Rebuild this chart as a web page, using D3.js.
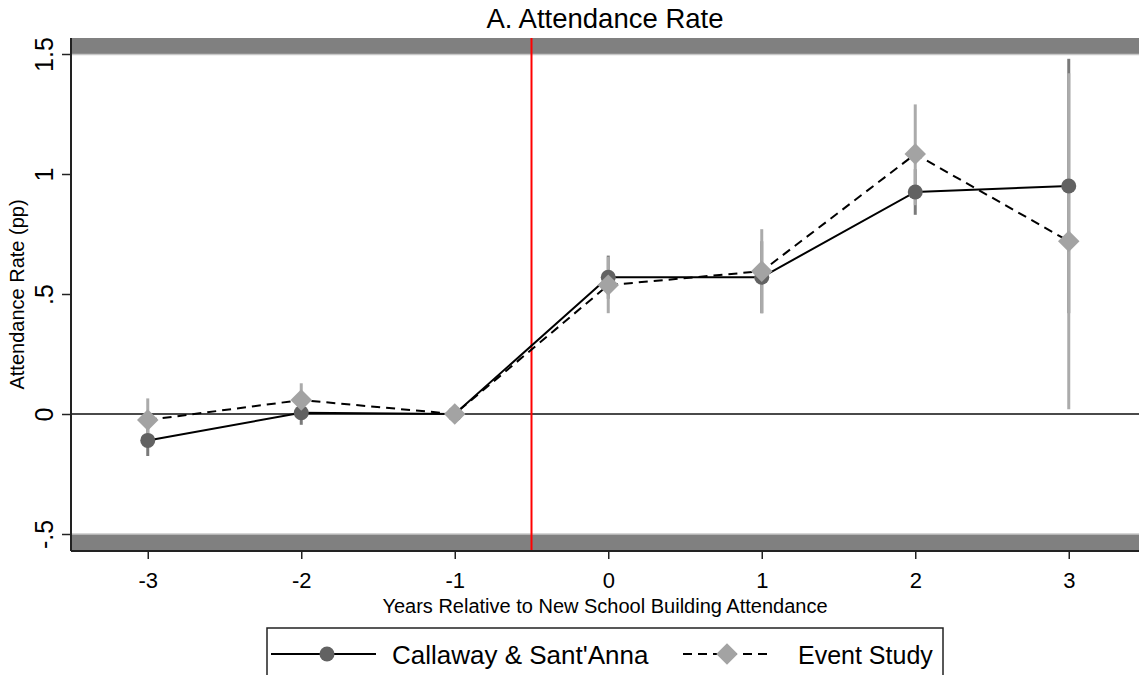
<!DOCTYPE html>
<html>
<head>
<meta charset="utf-8">
<script src="https://cdn.jsdelivr.net/npm/d3@7"></script>
<style>
  body { margin: 0; background: #fff; }
  svg { display: block; font-family: "Liberation Sans", Arial, sans-serif; }
</style>
</head>
<body>
<svg id="chart" width="1139" height="675"></svg>
<script>
// event time
const periods = [-3, -2, -1, 0, 1, 2, 3];
const xTicks = [-3, -2, -1, 0, 1, 2, 3];
const yTicks = [-0.5, 0, 0.5, 1, 1.5];
const yTickLabels = ["-.5", "0", ".5", "1", "1.5"];

// Callaway & Sant'Anna
const csEst = [-0.11, 0.005, 0, 0.57, 0.57, 0.925, 0.95];
const csLo = [-0.175, -0.045, 0, 0.48, 0.42, 0.83, 0.42];
const csHi = [-0.045, 0.055, 0, 0.66, 0.72, 1.02, 1.48];

// Event study
const esEst = [-0.025, 0.058, 0, 0.537, 0.595, 1.083, 0.72];
const esLo = [-0.115, -0.012, 0, 0.42, 0.42, 0.87, 0.02];
const esHi = [0.065, 0.128, 0, 0.655, 0.77, 1.29, 1.42];

const treatLine = -0.5;

let svg = d3.select("#chart");

let x = d3.scaleLinear().domain([-3.5, 3.5]).range([71, 1145.5]);
let y = d3.scaleLinear().domain([-0.5, 1.5]).range([534, 54]);

const plotTop = 38, plotBottom = 551, plotLeft = 71, plotRight = 1139;

// gray bands outside the y range
svg.append("rect")
    .attr("x", plotLeft).attr("y", plotTop)
    .attr("width", plotRight - plotLeft).attr("height", y(1.5) - plotTop)
    .attr("fill", "#808080");
svg.append("line")
    .attr("x1", plotLeft).attr("x2", plotRight)
    .attr("y1", y(1.5) + 0.5).attr("y2", y(1.5) + 0.5)
    .attr("stroke", "#c8c8c8").attr("stroke-width", 1.5);
svg.append("rect")
    .attr("x", plotLeft).attr("y", y(-0.5))
    .attr("width", plotRight - plotLeft).attr("height", plotBottom - y(-0.5))
    .attr("fill", "#808080");
svg.append("line")
    .attr("x1", plotLeft).attr("x2", plotRight)
    .attr("y1", y(-0.5)).attr("y2", y(-0.5))
    .attr("stroke", "#c8c8c8").attr("stroke-width", 1.5);

// zero line
svg.append("line")
    .attr("x1", plotLeft).attr("x2", plotRight)
    .attr("y1", y(0)).attr("y2", y(0))
    .attr("stroke", "#4a4a4a").attr("stroke-width", 2);

// treatment line
svg.append("line")
    .attr("x1", x(treatLine)).attr("x2", x(treatLine))
    .attr("y1", plotTop).attr("y2", plotBottom)
    .attr("stroke", "#ff0000").attr("stroke-width", 2);

// axes
let yAxis = d3.axisLeft(y).tickValues(yTicks)
    .tickFormat((d, i) => yTickLabels[i]).tickSize(9).tickSizeOuter(0);
let gy = svg.append("g").attr("transform", "translate(" + plotLeft + ",0)").call(yAxis);
gy.select(".domain").remove();
gy.selectAll(".tick line").attr("stroke", "#222").attr("stroke-width", 1.5);
gy.selectAll(".tick text")
    .attr("font-size", 25).attr("fill", "#000")
    .attr("text-anchor", "middle")
    .attr("transform", "translate(-27,0) rotate(-90)")
    .attr("x", 0).attr("dy", "0.35em");
svg.append("line")
    .attr("x1", plotLeft).attr("x2", plotLeft).attr("y1", plotTop).attr("y2", plotBottom)
    .attr("stroke", "#222").attr("stroke-width", 2);

let xAxis = d3.axisBottom(x).tickValues(xTicks).tickSize(8).tickSizeOuter(0);
let gx = svg.append("g").attr("transform", "translate(0," + plotBottom + ")").call(xAxis);
gx.select(".domain").remove();
gx.selectAll(".tick line").attr("stroke", "#222").attr("stroke-width", 1.5);
gx.selectAll(".tick text").attr("font-size", 22).attr("fill", "#000").attr("y", 21)
    .text(d => d < 0 ? "-" + Math.abs(d) : d);
svg.append("line")
    .attr("x1", plotLeft).attr("x2", plotRight).attr("y1", plotBottom).attr("y2", plotBottom)
    .attr("stroke", "#222").attr("stroke-width", 2);

// error bars
let csData = periods.map((p, i) => ({p: p, est: csEst[i], lo: csLo[i], hi: csHi[i]}));
let esData = periods.map((p, i) => ({p: p, est: esEst[i], lo: esLo[i], hi: esHi[i]}));

svg.append("g").selectAll("line").data(csData.filter(d => d.hi !== d.lo)).join("line")
    .attr("x1", d => x(d.p)).attr("x2", d => x(d.p))
    .attr("y1", d => y(d.lo)).attr("y2", d => y(d.hi))
    .attr("stroke", "#7a7a7a").attr("stroke-width", 3);
svg.append("g").selectAll("line").data(esData.filter(d => d.hi !== d.lo)).join("line")
    .attr("x1", d => x(d.p)).attr("x2", d => x(d.p))
    .attr("y1", d => y(d.lo)).attr("y2", d => y(d.hi))
    .attr("stroke", "#ababab").attr("stroke-width", 3);

// lines
let line = d3.line().x(d => x(d.p)).y(d => y(d.est));
svg.append("path").datum(csData).attr("d", line)
    .attr("fill", "none").attr("stroke", "#000").attr("stroke-width", 2);
svg.append("path").datum(esData).attr("d", line)
    .attr("fill", "none").attr("stroke", "#000").attr("stroke-width", 2)
    .attr("stroke-dasharray", "9,6");

// markers
svg.append("g").selectAll("circle").data(csData).join("circle")
    .attr("cx", d => x(d.p)).attr("cy", d => y(d.est)).attr("r", 7.5)
    .attr("fill", "#626262");
let diamond = d3.symbol().type(d3.symbolSquare).size(230);
svg.append("g").selectAll("path").data(esData).join("path")
    .attr("d", diamond)
    .attr("transform", d => "translate(" + x(d.p) + "," + y(d.est) + ") rotate(45)")
    .attr("fill", "#a3a3a3");

// titles
svg.append("text")
    .attr("x", (plotLeft + plotRight) / 2).attr("y", 28)
    .attr("text-anchor", "middle").attr("font-size", 27.5)
    .text("A. Attendance Rate");
svg.append("text")
    .attr("transform", "translate(24," + ((plotTop + plotBottom) / 2) + ") rotate(-90)")
    .attr("text-anchor", "middle").attr("font-size", 20)
    .text("Attendance Rate (pp)");
svg.append("text")
    .attr("x", (plotLeft + plotRight) / 2).attr("y", 613)
    .attr("text-anchor", "middle").attr("font-size", 20)
    .text("Years Relative to New School Building Attendance");

// legend
let lg = svg.append("g");
lg.append("rect")
    .attr("x", 267).attr("y", 628).attr("width", 676).attr("height", 60)
    .attr("fill", "#fff").attr("stroke", "#222").attr("stroke-width", 1.5);
lg.append("line").attr("x1", 271).attr("x2", 376).attr("y1", 654).attr("y2", 654)
    .attr("stroke", "#000").attr("stroke-width", 2);
lg.append("circle").attr("cx", 327).attr("cy", 654).attr("r", 7.5).attr("fill", "#626262");
lg.append("text").attr("x", 392).attr("y", 664).attr("font-size", 26).text("Callaway & Sant'Anna");
lg.append("line").attr("x1", 683).attr("x2", 773).attr("y1", 654).attr("y2", 654)
    .attr("stroke", "#000").attr("stroke-width", 2).attr("stroke-dasharray", "9,6");
lg.append("path").attr("d", diamond)
    .attr("transform", "translate(727,654) rotate(45)").attr("fill", "#a3a3a3");
lg.append("text").attr("x", 798).attr("y", 664).attr("font-size", 25).text("Event Study");
</script>
</body>
</html>
